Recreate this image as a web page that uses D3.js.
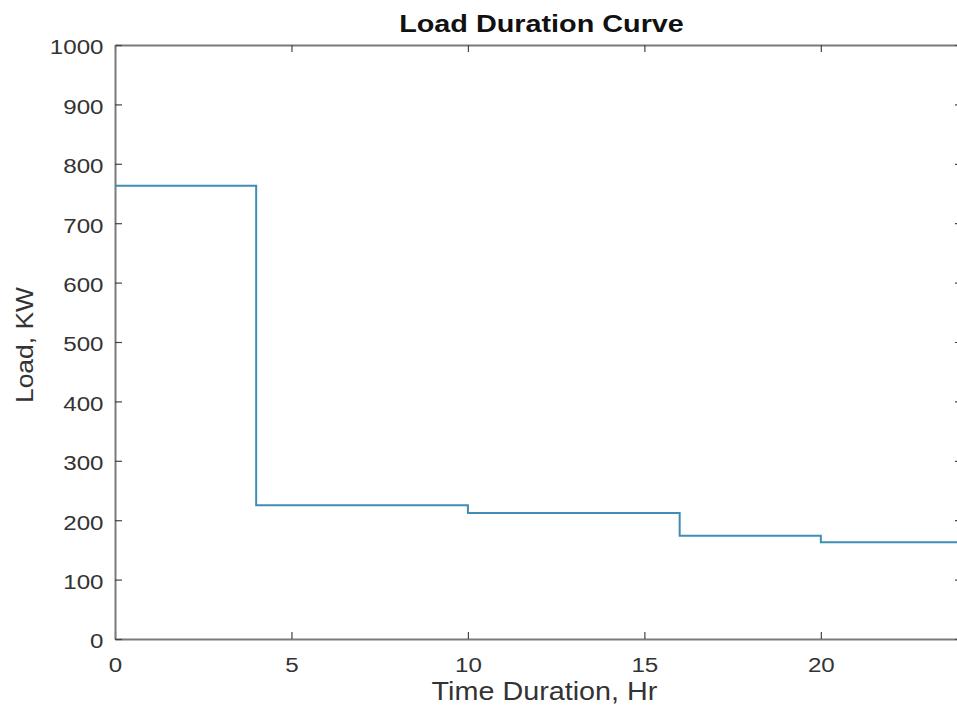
<!DOCTYPE html>
<html>
<head>
<meta charset="utf-8">
<script src="https://cdn.jsdelivr.net/npm/d3@7"></script>
<style>
  body { margin: 0; background: #fff; }
  svg { display: block; font-family: "Liberation Sans", Arial, sans-serif; }
</style>
</head>
<body>
<svg class="ldc"></svg>
<script>
// step points: load held from each hour until the next
const hours = [0, 4, 10, 16, 20, 24];
const loads = [763, 225, 212, 174, 163, 163];
const xTicks = [0, 5, 10, 15, 20];
const yTicks = [0, 100, 200, 300, 400, 500, 600, 700, 800, 900, 1000];

const dims = { width: 957, height: 714 };
const box = { left: 115, right: 962, top: 45, bottom: 639 };
const stretch = 1.15; // reference text looks a bit wide

const svg = d3.select('.ldc')
  .attr('width', dims.width)
  .attr('height', dims.height);

const x = d3.scaleLinear().domain([0, 24]).range([box.left, box.right]);
const y = d3.scaleLinear().domain([0, 1000]).range([box.bottom, box.top]);

const data = hours.map((h, i) => ({ h: h, load: loads[i] }));

const styleAxis = (g) => {
  g.select('.domain').attr('stroke', '#7a7a7a').attr('stroke-width', 2);
  g.selectAll('.tick line').attr('stroke', '#444').attr('stroke-width', 1.2);
  g.selectAll('text')
    .attr('fill', '#333')
    .style('font-size', '21px');
};

// bottom
svg.append('g')
  .attr('transform', `translate(0, ${box.bottom})`)
  .call(d3.axisBottom(x).tickValues(xTicks).tickSizeInner(-7).tickSizeOuter(0).tickFormat(d3.format('d')))
  .call(styleAxis)
  .call(g => g.selectAll('text').attr('y', 0).attr('dy', '33px')
    .attr('transform', `scale(${stretch},1)`));

// top
svg.append('g')
  .attr('transform', `translate(0, ${box.top})`)
  .call(d3.axisTop(x).tickValues(xTicks).tickSizeInner(-7).tickSizeOuter(0).tickFormat(''))
  .call(styleAxis);

// left
svg.append('g')
  .attr('transform', `translate(${box.left}, 0)`)
  .call(d3.axisLeft(y).tickValues(yTicks).tickSizeInner(-7).tickSizeOuter(0).tickFormat(d3.format('d')))
  .call(styleAxis)
  .call(g => g.selectAll('text').attr('x', -10).attr('dy', '0.42em')
    .attr('transform', `scale(${stretch},1)`));

// right
svg.append('g')
  .attr('transform', `translate(${box.right}, 0)`)
  .call(d3.axisRight(y).tickValues(yTicks).tickSizeInner(-7).tickSizeOuter(0).tickFormat(''))
  .call(styleAxis);

// curve
const line = d3.line()
  .x(d => x(d.h))
  .y(d => y(d.load))
  .curve(d3.curveStepAfter);

svg.append('path')
  .datum(data)
  .attr('fill', 'none')
  .attr('stroke', '#3f8db5')
  .attr('stroke-width', 2)
  .attr('d', line);

// title and labels
svg.append('text')
  .attr('transform', `translate(${(box.left + box.right) / 2 + 3}, 32) scale(1.2,1)`)
  .attr('text-anchor', 'middle')
  .style('font-size', '24px')
  .style('font-weight', 'bold')
  .attr('fill', '#111')
  .text('Load Duration Curve');

svg.append('text')
  .attr('transform', `translate(${(box.left + box.right) / 2 + 6}, 700) scale(${stretch},1)`)
  .attr('text-anchor', 'middle')
  .style('font-size', '25px')
  .attr('fill', '#333')
  .text('Time Duration, Hr');

svg.append('text')
  .attr('transform', `translate(33, ${(box.top + box.bottom) / 2 + 3}) rotate(-90) scale(${stretch},1)`)
  .attr('text-anchor', 'middle')
  .style('font-size', '23px')
  .attr('fill', '#333')
  .text('Load, KW');
</script>
</body>
</html>
